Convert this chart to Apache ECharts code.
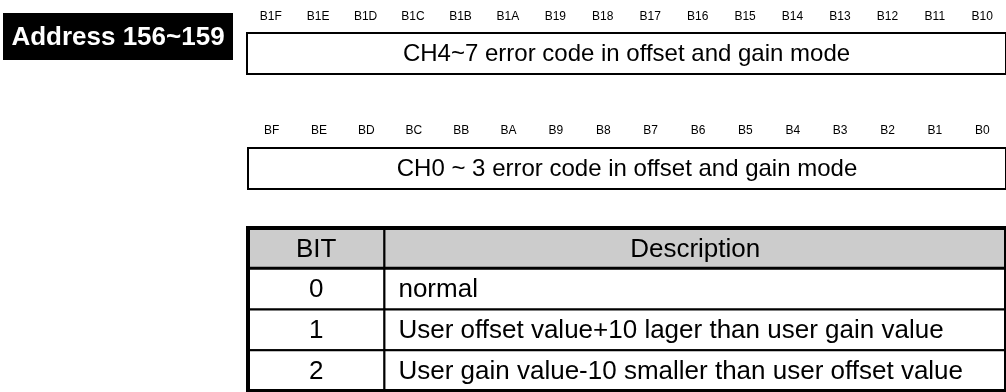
<!DOCTYPE html>
<html>
<head>
<meta charset="utf-8">
<script src="https://cdn.jsdelivr.net/npm/echarts@6/dist/echarts.min.js"></script>
<style>
  html, body { margin: 0; padding: 0; background: #fff; }
  #chart { width: 1006px; height: 392px; }
</style>
</head>
<body>
<div id="chart"></div>
<script>
// ---------------- data ----------------
const addressLabel = 'Address 156~159';
const highBits = ['B1F','B1E','B1D','B1C','B1B','B1A','B19','B18','B17','B16','B15','B14','B13','B12','B11','B10'];
const lowBits  = ['BF','BE','BD','BC','BB','BA','B9','B8','B7','B6','B5','B4','B3','B2','B1','B0'];
const highWordText = 'CH4~7 error code in offset and gain mode';
const lowWordText  = 'CH0 ~ 3 error code in offset and gain mode';
const tableHeader = ['BIT', 'Description'];
const bitValues = ['0', '1', '2'];
const bitDescriptions = [
  'normal',
  'User offset value+10 lager than user gain value',
  'User gain value-10 smaller than user offset value'
];

// ---------------- layout / style ----------------
const FONT = '"Liberation Sans", Arial, Helvetica, sans-serif';
const COL_EDGES = [0, 18, 100];   // table column split in % of table width
const rowKeys = ['head'].concat(bitValues);

// table cells built from the arrays
const tableCells = [];
tableHeader.forEach((t, c) => tableCells.push({ col: c, row: 0, text: t }));
bitValues.forEach((v, i) => {
  tableCells.push({ col: 0, row: i + 1, text: v });
  tableCells.push({ col: 1, row: i + 1, text: bitDescriptions[i] });
});

function registerText(text) {
  return function (params, api) {
    const p = api.coord([0.5, 0.5]);
    return {
      type: 'text',
      style: {
        text: text, x: p[0], y: p[1] + 1,
        align: 'center', verticalAlign: 'middle',
        font: '24px ' + FONT, fill: '#000'
      }
    };
  };
}

function bitAxis(gridIndex, data, margin) {
  return {
    gridIndex: gridIndex, type: 'category', data: data, position: 'top',
    boundaryGap: true,
    axisLine: { show: false }, axisTick: { show: false }, splitLine: { show: false },
    axisLabel: { margin: margin, fontSize: 12, color: '#000', fontFamily: FONT, interval: 0 }
  };
}

const chart = echarts.init(document.getElementById('chart'), null, { renderer: 'canvas' });
chart.setOption({
  animation: false,
  backgroundColor: '#fff',
  textStyle: { fontFamily: FONT },
  graphic: [
    {
      type: 'rect', left: 3, top: 13, z: 10,
      shape: { width: 230, height: 47 },
      style: { fill: '#000' }
    },
    {
      type: 'text', z: 11,
      style: {
        text: addressLabel, x: 118, y: 38,
        align: 'center', verticalAlign: 'middle',
        font: 'bold 26px ' + FONT, fill: '#fff'
      }
    }
  ],
  grid: [
    { left: 247, top: 33, width: 765, height: 41, show: true, borderColor: '#000', borderWidth: 2, backgroundColor: 'transparent' },
    { left: 248, top: 148, width: 765, height: 41, show: true, borderColor: '#000', borderWidth: 2, backgroundColor: 'transparent' },
    { left: 248, top: 228, width: 766, height: 163, show: true, borderColor: '#000', borderWidth: 4, backgroundColor: 'transparent', z: 5 }
  ],
  xAxis: [
    bitAxis(0, highBits, 10),
    { gridIndex: 0, type: 'value', min: 0, max: 1, show: false },
    bitAxis(1, lowBits, 11),
    { gridIndex: 1, type: 'value', min: 0, max: 1, show: false },
    { gridIndex: 2, type: 'value', min: 0, max: 100, show: false }
  ],
  yAxis: [
    { gridIndex: 0, type: 'value', min: 0, max: 1, show: false },
    { gridIndex: 1, type: 'value', min: 0, max: 1, show: false },
    { gridIndex: 2, type: 'category', data: rowKeys, inverse: true, show: false }
  ],
  series: [
    {
      type: 'custom', xAxisIndex: 1, yAxisIndex: 0,
      data: [[0.5, 0.5]], renderItem: registerText(highWordText), silent: true
    },
    {
      type: 'custom', xAxisIndex: 3, yAxisIndex: 1,
      data: [[0.5, 0.5]], renderItem: registerText(lowWordText), silent: true
    },
    {
      type: 'custom', xAxisIndex: 4, yAxisIndex: 2, silent: true,
      encode: { x: 0, y: 1 },
      data: tableCells.map(c => [c.col, c.row]),
      renderItem: function (params, api) {
        const cell = tableCells[params.dataIndex];
        const col = cell.col, row = cell.row;
        const center = api.coord([0, row]);
        const bandH = api.size([0, 1])[1];
        const x0 = api.coord([COL_EDGES[col], row])[0];
        const x1 = api.coord([COL_EDGES[col + 1], row])[0];
        const y0 = center[1] - bandH / 2;
        const isHead = row === 0;
        const leftAlign = !isHead && col === 1;
        const children = [
          {
            type: 'rect',
            shape: { x: x0, y: y0, width: x1 - x0, height: bandH },
            style: { fill: isHead ? '#cccccc' : '#ffffff', stroke: '#000', lineWidth: 2 }
          },
          {
            type: 'text',
            style: {
              text: cell.text,
              x: leftAlign ? x0 + 14 : (x0 + x1) / 2,
              y: center[1] + 1,
              align: leftAlign ? 'left' : 'center',
              verticalAlign: 'middle',
              font: '26px ' + FONT, fill: '#000'
            }
          }
        ];
        if (isHead) {
          children.push({
            type: 'line',
            shape: { x1: x0, y1: y0 + bandH, x2: x1, y2: y0 + bandH },
            style: { stroke: '#000', lineWidth: 4 }
          });
        }
        return { type: 'group', children: children };
      }
    }
  ]
});
</script>
</body>
</html>
